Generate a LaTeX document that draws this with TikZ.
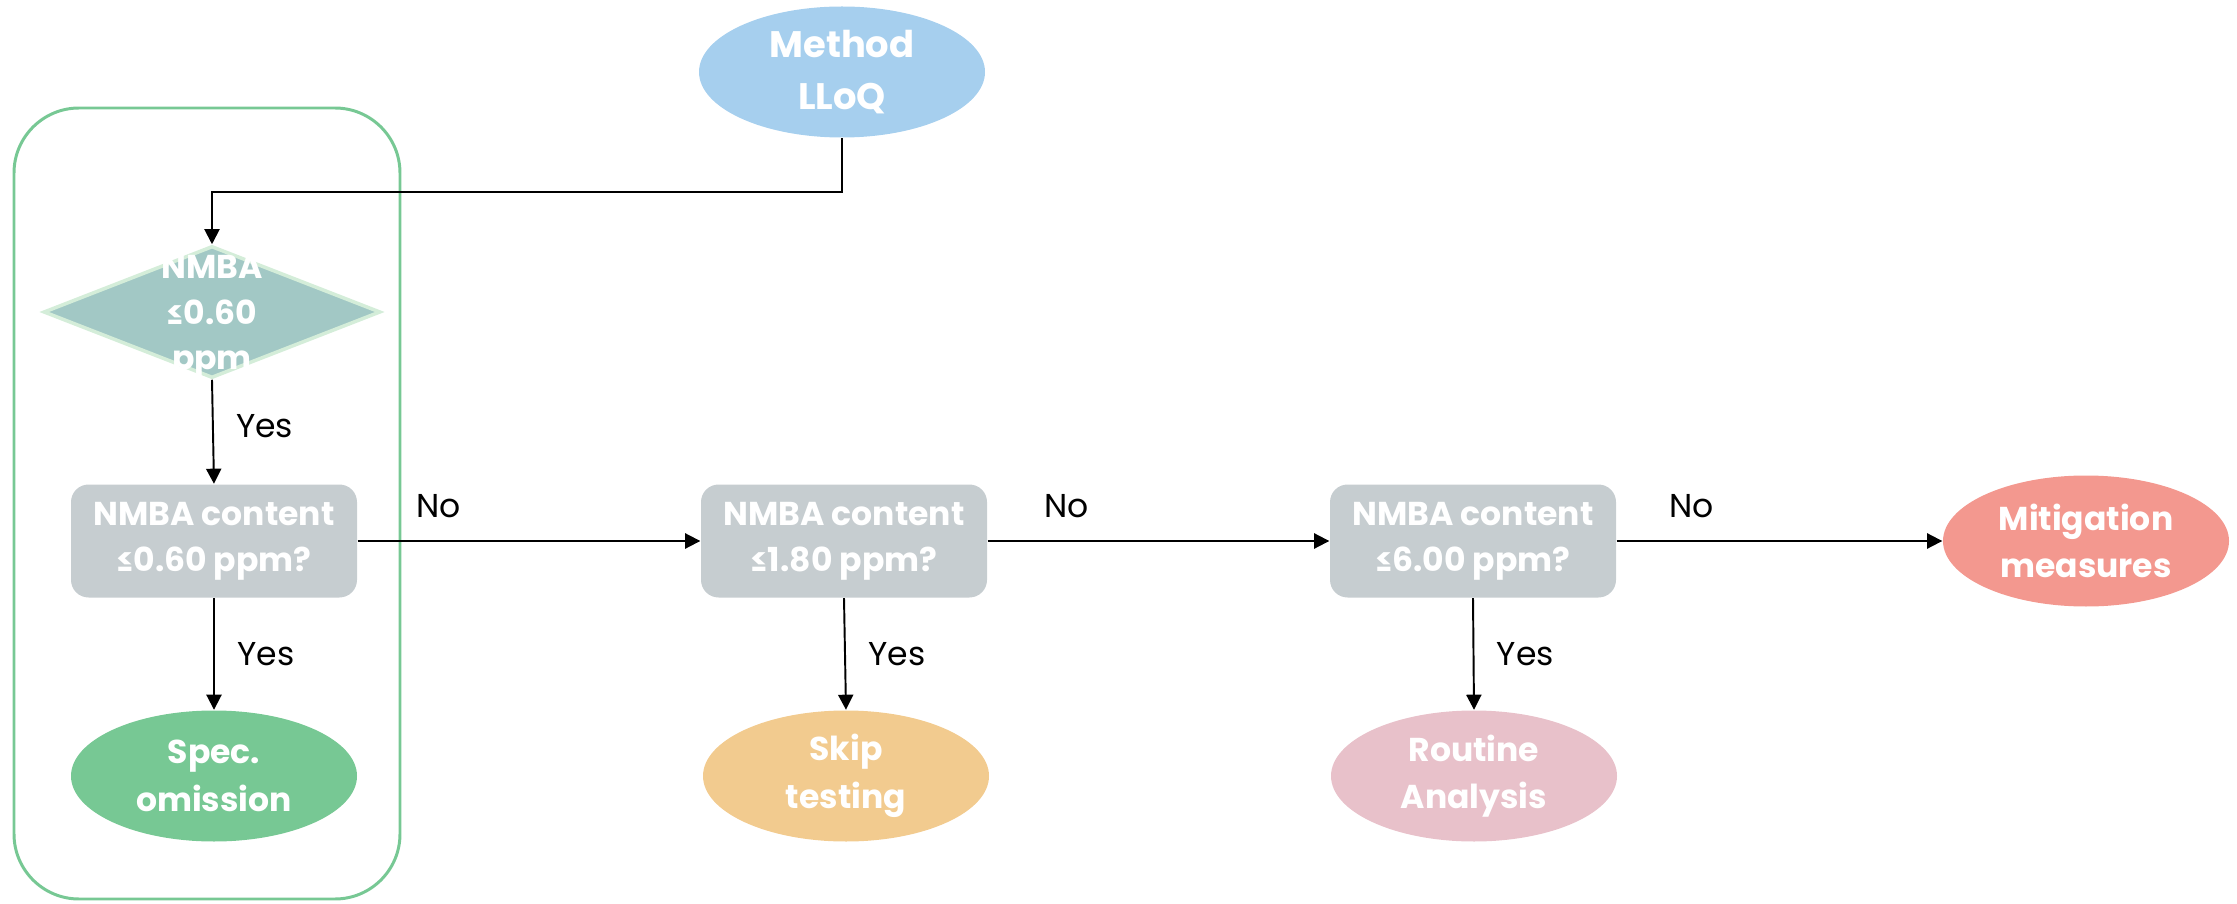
\documentclass[tikz,border=0pt]{standalone}
\usepackage{fontspec}
\setmainfont{Poppins}
\usepackage{tikz}
\usetikzlibrary{shapes.geometric,arrows.meta,positioning,calc}
\definecolor{bleuLLoQ}{HTML}{A6CFEE}
\definecolor{vertEau}{HTML}{A2C8C5}
\definecolor{vertBord}{HTML}{D4EDD9}
\definecolor{grisBoite}{HTML}{C6CDD0}
\definecolor{vertSpec}{HTML}{77C894}
\definecolor{jauneSkip}{HTML}{F2CB8F}
\definecolor{roseRoutine}{HTML}{E8C1CA}
\definecolor{rougeMitig}{HTML}{F3988F}

\begin{document}
\begin{tikzpicture}[font=\fontsize{9.4}{13}\selectfont,
  fin/.style={ellipse,minimum width=2.86cm,minimum height=1.31cm,inner sep=0pt,
              text=white,font=\fontsize{9.4}{13.5}\selectfont\bfseries,align=center},
  test/.style={rectangle,rounded corners=5pt,minimum width=2.86cm,minimum height=1.13cm,
               fill=grisBoite,text=white,font=\fontsize{9.4}{13}\selectfont\bfseries,align=center},
  losange/.style={diamond,minimum width=3.37cm,minimum height=1.32cm,inner sep=0pt,
                  fill=vertEau,draw=vertBord,line width=1pt},
  fleche/.style={-{Triangle[length=4.3pt,width=4.3pt]},line width=0.55pt},
  rep/.style={font=\fontsize{9.4}{13}\selectfont}]
  \useasboundingbox (0,0) rectangle (22.37,9.03);

  % cadre autour de la premiere etape
  \draw[vertSpec,line width=0.85pt,rounded corners=0.65cm] (0.14,0.04) rectangle (4.00,7.95);

  \node[fin,fill=bleuLLoQ,font=\fontsize{10.5}{15}\selectfont\bfseries] (LLoQ) at (8.42,8.31) {Method\\LLoQ};
  \node[losange] (D1) at (2.12,5.91) {};
  \node[text=white,font=\fontsize{9.4}{13}\selectfont\bfseries,align=center] (D1txt) at ($(D1)+(0,-0.05)$) {NMBA\\≤0.60\\ppm};

  \node[test] (T1) at (2.14,3.62) {NMBA content\\≤0.60 ppm?};
  \node[test] (T2) at (8.44,3.62) {NMBA content\\≤1.80 ppm?};
  \node[test] (T3) at (14.73,3.62) {NMBA content\\≤6.00 ppm?};

  \node[fin,fill=vertSpec] (Spec) at (2.14,1.27) {Spec.\\omission};
  \node[fin,fill=jauneSkip] (Skip) at (8.46,1.27) {Skip\\testing};
  \node[fin,fill=roseRoutine] (Routine) at (14.74,1.27) {Routine\\Analysis};
  \node[fin,fill=rougeMitig] (Mitig) at (20.86,3.62) {Mitigation\\measures};

  \draw[fleche] (LLoQ.south) -- ++(0,-0.54) -| (D1.north);
  \draw[fleche] (D1.south) -- node[rep,right=3pt,pos=0.45] {Yes} (T1.north);
  \draw[fleche] (T1.south) -- node[rep,right=3pt] {Yes} (Spec.north);
  \draw[fleche] (T2.south) -- node[rep,right=3pt] {Yes} (Skip.north);
  \draw[fleche] (T3.south) -- node[rep,right=3pt] {Yes} (Routine.north);

  \draw[fleche] (T1.east) -- node[rep,above=3pt,pos=0.235] {No} (T2.west);
  \draw[fleche] (T2.east) -- node[rep,above=3pt,pos=0.23] {No} (T3.west);
  \draw[fleche] (T3.east) -- node[rep,above=3pt,pos=0.23] {No} (Mitig.west);
\end{tikzpicture}
\end{document}
